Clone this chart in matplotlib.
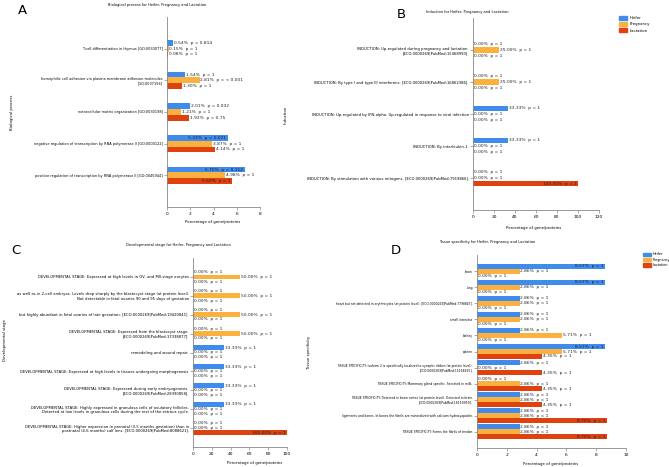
import numpy as np
import matplotlib
matplotlib.use("Agg")
import matplotlib.pyplot as plt
from matplotlib.patches import Patch

groups = ["Heifer", "Pregnancy", "Lactation"]
colors = ["#3f8ced", "#fbb13e", "#e0420f"]

# A - biological process
bp_cats = ["T cell differentiation in thymus [GO:0033077]",
           "homophilic cell adhesion via plasma membrane adhesion molecules\n[GO:0007156]",
           "extracellular matrix organization [GO:0030198]",
           "negative regulation of transcription by RNA polymerase II [GO:0000122]",
           "positive regulation of transcription by RNA polymerase II [GO:0045944]"]
bp_heifer = [0.54, 1.54, 2.01, 5.23, 6.70]
bp_preg = [0.15, 2.81, 1.21, 3.87, 4.98]
bp_lact = [0.08, 1.30, 1.92, 4.14, 5.60]
bp_p_heifer = ["0.814", "1", "0.032", "0.021", "0.112"]
bp_p_preg = ["1", "< 0.001", "1", "1", "1"]
bp_p_lact = ["1", "1", "0.75", "1", "1"]

# B - induction
ind_cats = ["INDUCTION: Up-regulated during pregnancy and lactation.\n[ECO:0000269|PubMed:15468990].",
            "INDUCTION: By type I and type III interferons. [ECO:0000269|PubMed:16862386].",
            "INDUCTION: Up-regulated by IFN-alpha. Up-regulated in response to viral infection",
            "INDUCTION: By interleukin-1.",
            "INDUCTION: By stimulation with various mitogens. [ECO:0000269|PubMed:7919866]."]
ind_heifer = [0, 0, 33.33, 33.33, 0]
ind_preg = [25.00, 25.00, 0, 0, 0]
ind_lact = [0, 0, 0, 0, 100.00]

# C - developmental stage
dev_cats = ["DEVELOPMENTAL STAGE: Expressed at high levels in GV- and MII-stage oocytes",
            "as well as in 2-cell embryos. Levels drop sharply by the blastocyst stage (at protein level).\nNot detectable in fetal ovaries 90 and 95 days of gestation",
            "but highly abundant in fetal ovaries of late gestation. [ECO:0000269|PubMed:19420841].",
            "DEVELOPMENTAL STAGE: Expressed from the blastocyst stage.\n[ECO:0000269|PubMed:17338877].",
            "remodeling and wound repair.",
            "DEVELOPMENTAL STAGE: Expressed at high levels in tissues undergoing morphogenesis",
            "DEVELOPMENTAL STAGE: Expressed during early embryogenesis.\n[ECO:0000269|PubMed:28390858].",
            "DEVELOPMENTAL STAGE: Highly expressed in granulosa cells of ovulatory follicles.\nDetected at low levels in granulosa cells during the rest of the estrous cycle.",
            "DEVELOPMENTAL STAGE: Higher expression in prenatal (3-5 months gestation) than in\npostnatal (4-6 months) calf lens. [ECO:0000269|PubMed:8088621]."]
dev_heifer = [0, 0, 0, 0, 33.33, 33.33, 33.33, 33.33, 0]
dev_preg = [50.00, 50.00, 50.00, 50.00, 0, 0, 0, 0, 0]
dev_lact = [0, 0, 0, 0, 0, 0, 0, 0, 100.00]

# D - tissue specificity
tis_cats = ["brain", "lung",
            "heart but not detected in erythrocytes (at protein level). [ECO:0000269|PubMed:7798847].",
            "small intestine", "kidney", "spleen",
            "TISSUE SPECIFICITY: Isoform 2 is specifically localized to synaptic ribbon (at protein level).\n[ECO:0000269|PubMed:15168915].",
            "TISSUE SPECIFICITY: Mammary gland specific. Secreted in milk.",
            "TISSUE SPECIFICITY: Detected in brain cortex (at protein level). Detected in brain.\n[ECO:0000269|PubMed:16159959].",
            "ligaments and bones. In bones the fibrils are mineralized with calcium hydroxyapatite.",
            "TISSUE SPECIFICITY: Forms the fibrils of tendon"]
tis_heifer = [8.57, 8.57, 2.86, 2.86, 2.86, 8.57, 2.86, 0, 2.86, 2.86, 2.86]
tis_preg = [2.86, 2.86, 2.86, 2.86, 5.71, 5.71, 0, 2.86, 2.86, 2.86, 2.86]
tis_lact = [0, 0, 0, 0, 0, 4.35, 4.35, 4.35, 4.35, 8.70, 8.70]

W, H = 669, 467
fig = plt.figure(figsize=(W / 100, H / 100), dpi=100)


def fx(px):
    return px / W


def fy(px):
    return 1 - px / H


def panel(box, cats, series, pvals, xmax, xticks, bh, fs_cat):
    x0, y0, x1, y1 = box
    ax = fig.add_axes([fx(x0), fy(y1), fx(x1 - x0), (y1 - y0) / H])
    n = len(cats)
    y = np.arange(n)
    vmax = max(max(s) for s in series)
    for k, (vals, ps) in enumerate(zip(series, pvals)):
        yy = y + (k - 1) * bh
        ax.barh(yy, vals, height=bh, color=colors[k], edgecolor="none")
        for yi, v, pv in zip(yy, vals, ps):
            txt = f"{v:.2f}%  p = {pv}"
            if v >= 0.76 * vmax:
                ax.annotate(txt, (v, yi), xytext=(-1, 0), textcoords="offset points",
                            ha="right", va="center", fontsize=3.2, color="#222222")
            else:
                ax.annotate(txt, (v, yi), xytext=(0.5, 0), textcoords="offset points",
                            ha="left", va="center", fontsize=3.2, color="#222222")
    ax.set_ylim(n, -1)
    ax.set_xlim(0, xmax)
    ax.set_xticks(xticks)
    ax.set_yticks(y)
    ax.set_yticklabels(cats, fontsize=fs_cat)
    ax.tick_params(axis="x", labelsize=3.2, length=2, width=0.5, color="#888888", pad=1.5)
    ax.tick_params(axis="y", length=2, width=0.5, color="#888888", pad=1)
    for s in ["top", "right"]:
        ax.spines[s].set_visible(False)
    for s in ["left", "bottom"]:
        ax.spines[s].set_color("#888888")
        ax.spines[s].set_linewidth(0.6)
    ax.set_facecolor("none")
    return ax


def ones(n):
    return ["1"] * n


panel((167, 17, 260, 207), bp_cats, [bp_heifer, bp_preg, bp_lact],
      [bp_p_heifer, bp_p_preg, bp_p_lact], 8, [0, 2, 4, 6, 8], 0.18, 2.55)
panel((473, 18, 599, 210), ind_cats, [ind_heifer, ind_preg, ind_lact],
      [ones(5)] * 3, 120, [0, 20, 40, 60, 80, 100, 120], 0.175, 2.7)
panel((193, 258, 287, 447), dev_cats, [dev_heifer, dev_preg, dev_lact],
      [ones(9)] * 3, 100, [0, 20, 40, 60, 80, 100], 0.25, 2.7)
panel((477, 255, 626, 448), tis_cats, [tis_heifer, tis_preg, tis_lact],
      [ones(11)] * 3, 10, [0, 2, 4, 6, 8, 10], 0.31, 2.2)

# titles
fig.text(fx(157), fy(5), "Biological process for Heifer, Pregnancy and Lactation", fontsize=2.6, ha="center", va="center")
fig.text(fx(467), fy(12), "Induction for Heifer, Pregnancy and Lactation", fontsize=2.6, ha="center", va="center")
fig.text(fx(178), fy(245), "Developmental stage for Heifer, Pregnancy and Lactation", fontsize=2.6, ha="center", va="center")
fig.text(fx(487), fy(242), "Tissue specificity for Heifer, Pregnancy and Lactation", fontsize=2.6, ha="center", va="center")

# panel letters
for letter, px, py in [("A", 22, 11), ("B", 401, 15), ("C", 16, 251), ("D", 396, 250)]:
    fig.text(fx(px), fy(py), letter, fontsize=9.5, ha="center", va="center")

# x labels
fig.text(fx(213), fy(222), "Percentage of gene/proteins", fontsize=2.8, ha="center", va="center")
fig.text(fx(534), fy(228), "Percentage of gene/proteins", fontsize=2.8, ha="center", va="center")
fig.text(fx(255), fy(463), "Percentage of gene/proteins", fontsize=2.8, ha="center", va="center")
fig.text(fx(551), fy(464), "Percentage of gene/proteins", fontsize=2.8, ha="center", va="center")

# y labels
fig.text(fx(12), fy(112), "Biological process", fontsize=2.8, rotation=90, ha="center", va="center")
fig.text(fx(286), fy(115), "Induction", fontsize=2.8, rotation=90, ha="center", va="center")
fig.text(fx(5), fy(340), "Developmental stage", fontsize=2.8, rotation=90, ha="center", va="center")
fig.text(fx(309), fy(352), "Tissue specificity", fontsize=2.8, rotation=90, ha="center", va="center")

handles = [Patch(color=c) for c in colors]
fig.legend(handles, groups, loc="upper left", bbox_to_anchor=(fx(617), fy(14)),
           fontsize=2.8, frameon=False, handlelength=2.2, handleheight=1.2,
           labelspacing=0.55, handletextpad=0.6, borderaxespad=0)
fig.legend(handles, groups, loc="upper left", bbox_to_anchor=(fx(642), fy(251)),
           fontsize=2.4, frameon=False, handlelength=2.2, handleheight=1.2,
           labelspacing=0.4, handletextpad=0.6, borderaxespad=0)

fig.savefig("out.png", dpi=100)
